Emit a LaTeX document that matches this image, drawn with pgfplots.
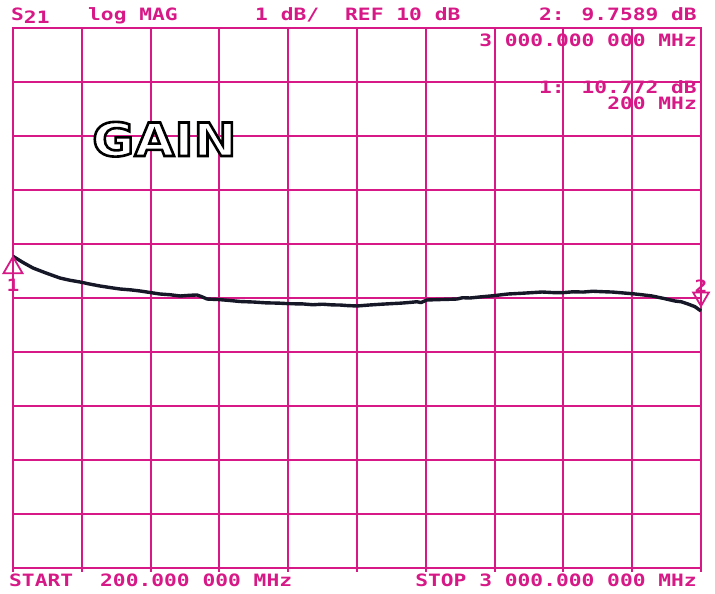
\documentclass[border=0pt]{standalone}
\usepackage{fontspec}
\usepackage{pgfplots}
\pgfplotsset{compat=1.18}
\newfontfamily\plotfont{DejaVu Sans Mono}[FakeStretch=1.25]
\newfontfamily\gainfont{DejaVu Sans}[FakeStretch=1.12]
\definecolor{pk}{RGB}{215,25,135}
\definecolor{tr}{RGB}{22,24,40}
\newcommand{\ptx}[1]{\fontsize{17}{17}\selectfont\bfseries\plotfont #1}
\begin{document}
\begin{tikzpicture}[x=1pt,y=1pt]
\path[use as bounding box, fill=white] (0,0) rectangle (715,594);
\begin{axis}[
  at={(13pt,26pt)}, anchor=south west,
  scale only axis, width=688pt, height=540pt,
  xmin=200, xmax=3000, ymin=5, ymax=15,
  xtick={200,480,...,3000}, ytick={5,6,...,15},
  xticklabel=\empty, yticklabel=\empty,
  grid=major,
  major grid style={pk, line width=1.9pt},
  axis line style={pk, line width=2pt},
  tick align=outside, xtick pos=bottom, ytick pos=left,
  major tick length=4pt,
  x tick style={pk, line width=1.9pt},
  y tick style={draw=none},
  clip=false,
]
\addplot[tr, line width=3.4pt, line join=round] coordinates {
(200,10.772)(240,10.66)(281,10.556)(330,10.47)(391,10.370)(430,10.33)(473,10.296)
(510,10.26)(554,10.222)(600,10.19)(635,10.167)(680,10.15)(717,10.130)(760,10.10)
(798,10.074)(840,10.06)(880,10.037)(920,10.05)(949,10.056)(970,10.02)(990,9.981)
(1040,9.97)(1080,9.955)(1124,9.935)(1180,9.925)(1230,9.91)(1280,9.905)(1327,9.894)
(1380,9.89)(1420,9.875)(1460,9.885)(1500,9.872)(1531,9.870)(1560,9.86)(1600,9.852)
(1650,9.87)(1700,9.885)(1734,9.894)(1780,9.905)(1820,9.92)(1844,9.931)(1860,9.915)
(1885,9.963)(1930,9.97)(1970,9.975)(2007,9.981)(2030,10.005)(2060,10.0)(2100,10.019)
(2150,10.04)(2215,10.074)(2280,10.09)(2353,10.111)(2400,10.10)(2435,10.098)
(2480,10.115)(2520,10.11)(2560,10.125)(2597,10.117)(2640,10.11)(2680,10.095)
(2719,10.080)(2760,10.06)(2801,10.037)(2850,9.99)(2894,9.944)(2920,9.93)
(2947,9.889)(2975,9.84)(3000,9.759)
};
% marker 1
\addplot[only marks, mark=triangle, mark size=11pt,
  mark options={pk, line width=1.8pt, fill=white, yshift=-11.5pt}] coordinates {(200,10.772)};
% marker 2
\addplot[only marks, mark=triangle, mark size=9pt,
  mark options={pk, line width=1.8pt, fill=white, rotate=180, yshift=-9pt}] coordinates {(3000,9.85)};
\node[pk, font=\ptx{}] at (axis cs:200,10.24) {1};
\node[pk, font=\ptx{}] at (axis cs:3000,10.22) {2};
\end{axis}
% header texts
\begin{scope}[every node/.style={pk, inner sep=0pt}]
\node[anchor=base west] at (11,573) {\ptx{S}\raisebox{-3pt}{\ptx{21}}};
\node[anchor=base west] at (88,573) {\ptx{log MAG}};
\node[anchor=base west] at (255,573) {\ptx{1 dB/}};
\node[anchor=base west] at (345,573) {\ptx{REF 10 dB}};
\node[anchor=base east] at (697,573) {\ptx{2: 9.7589 dB}};
\node[anchor=base east] at (697,547) {\ptx{3 000.000 000 MHz}};
\node[anchor=base east] at (697,500) {\ptx{1: 10.772 dB}};
\node[anchor=base east] at (697,484) {\ptx{200 MHz}};
\node[anchor=base west] at (9,7) {\ptx{START}};
\node[anchor=base west] at (100,7) {\ptx{200.000 000 MHz}};
\node[anchor=base east] at (697,7) {\ptx{STOP 3 000.000 000 MHz}};
\end{scope}
% GAIN outlined (text render mode: fill white, stroke black)
\node[inner sep=0pt, anchor=base west, text=white,
  font=\fontsize{46}{46}\selectfont\bfseries\gainfont] at (92,438)
  {\special{pdf:literal direct 0 G 2.6 w 2 Tr}GAIN\special{pdf:literal direct 0 Tr}};
\end{tikzpicture}
\end{document}
